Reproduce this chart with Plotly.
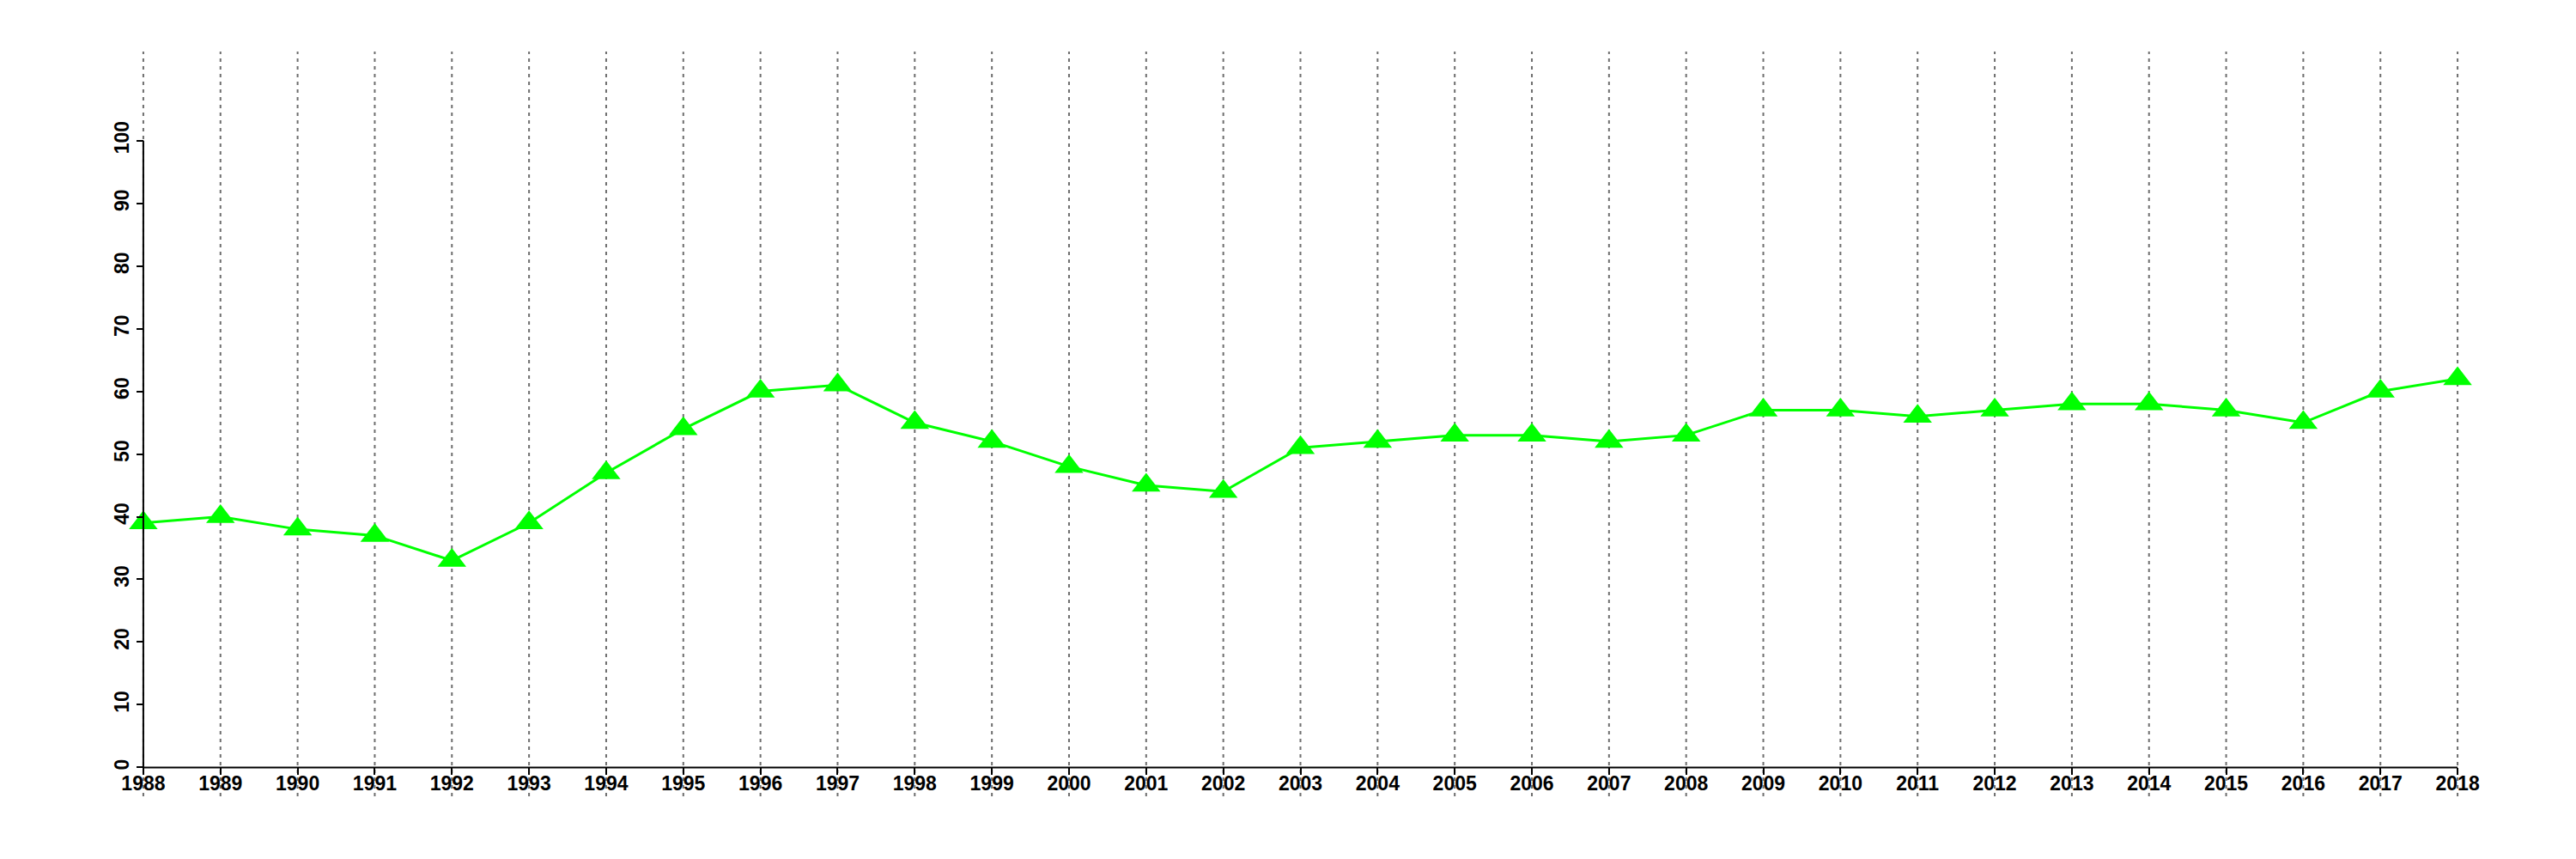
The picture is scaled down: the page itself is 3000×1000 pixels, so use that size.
"""Courbe annuelle 1988-2018, style graphique R (axes libres, repères pointillés)."""
import plotly.graph_objects as go

years = list(range(1988, 2019))
values = [39, 40, 38, 37, 33, 39, 47, 54, 60, 61, 55, 52, 48, 45, 44,
          51, 52, 53, 53, 52, 53, 57, 57, 56, 57, 58, 58, 57, 55, 60, 62]
y_ticks = list(range(0, 101, 10))

# plages d'axes (marges autour des données pour laisser dépasser les pointillés)
x_lo, x_hi = 1987.5, 2018.5
y_lo, y_hi = -4.6, 114.2

line_color = "#00FF00"
font = dict(family="Liberation Sans, Arial, sans-serif", size=23, color="black", weight="bold")

fig = go.Figure()

# repères verticaux pointillés, un par année
for yr in years:
    fig.add_shape(
        type="line", xref="x", yref="y domain",
        x0=yr, x1=yr, y0=0, y1=1,
        line=dict(color="#6e6e6e", width=2, dash="4px,5px"),
        layer="below",
    )

# lignes d'axes limitées aux données (comme dans R)
fig.add_shape(type="line", xref="x", yref="y", x0=years[0], x1=years[-1], y0=0, y1=0,
              line=dict(color="black", width=2))
fig.add_shape(type="line", xref="x", yref="y", x0=years[0], x1=years[0],
              y0=y_ticks[0], y1=y_ticks[-1], line=dict(color="black", width=2))

fig.add_trace(go.Scatter(
    x=years,
    y=values,
    mode="lines+markers",
    line=dict(color=line_color, width=3),
    marker=dict(symbol="triangle-up", size=29, color=line_color),
    cliponaxis=False,
    showlegend=False,
))

# la page ajoute 8 px de marge au body : figure réduite d'autant
fig.update_layout(
    width=2992,
    height=992,
    margin=dict(l=114, r=93, t=52, b=73, autoexpand=False),
    plot_bgcolor="white",
    paper_bgcolor="white",
    font=font,
    xaxis=dict(
        range=[x_lo, x_hi],
        anchor="free",
        position=(0 - y_lo) / (y_hi - y_lo),
        automargin=False,
        tickmode="array",
        tickvals=years,
        ticktext=[str(y) for y in years],
        ticks="outside", ticklen=8, tickwidth=2, tickcolor="black",
        ticklabelstandoff=-10,
        showline=False, showgrid=False, zeroline=False,
        tickfont=font,
    ),
    yaxis=dict(
        range=[y_lo, y_hi],
        anchor="free",
        position=(years[0] - x_lo) / (x_hi - x_lo),
        automargin=False,
        tickmode="array",
        tickvals=y_ticks,
        ticks="outside", ticklen=8, tickwidth=2, tickcolor="black",
        tickangle=-90,
        showline=False, showgrid=False, zeroline=False,
        tickfont=font,
    ),
)

fig.write_html("out.html")
